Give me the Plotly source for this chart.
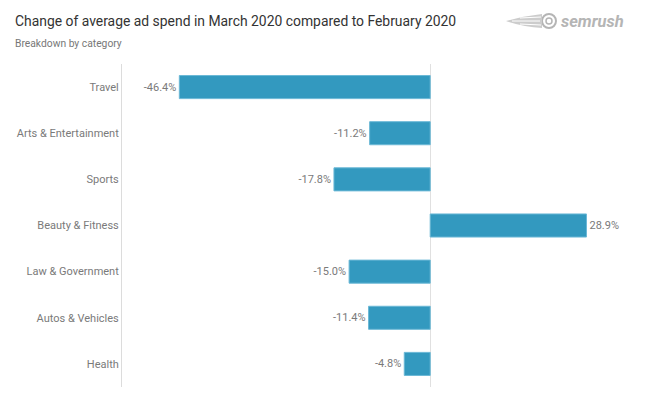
import plotly.graph_objects as go

categories = ["Travel", "Arts & Entertainment", "Sports", "Beauty & Fitness",
              "Law & Government", "Autos & Vehicles", "Health"]
values = [-46.4, -11.2, -17.8, 28.9, -15.0, -11.4, -4.8]
labels = [f"{v:.1f}%" for v in values]

L, T, PW, PH = 122, 64, 518, 323


def px(x):
    return (x - L) / PW


def py(y):
    return 1 - (y - T) / PH


fig = go.Figure(go.Bar(
    y=categories, x=values, orientation="h",
    marker=dict(color="#3399BF", line=dict(color="#6BB8D6", width=1)),
    width=0.5,
    text=labels, textposition="outside", cliponaxis=False,
    textfont=dict(family="Roboto", size=11, color="#7a7a7a"),
    hoverinfo="skip",
))

fig.update_layout(
    width=651, height=395,
    margin=dict(l=L, r=651 - L - PW, t=T, b=395 - T - PH, autoexpand=False),
    paper_bgcolor="white", plot_bgcolor="white",
    showlegend=False,
    bargap=0.5,
    font=dict(family="Roboto", color="#777"),
    xaxis=dict(range=[-57, 38.8], showgrid=False, showticklabels=False,
               zeroline=True, zerolinecolor="#e0e0e0", zerolinewidth=1,
               fixedrange=True, automargin=False),
    yaxis=dict(categoryorder="array", categoryarray=categories[::-1],
               showgrid=False, showline=True, linecolor="#dcdcdc", linewidth=1,
               ticks="", ticklabelstandoff=0, automargin=False, fixedrange=True,
               tickfont=dict(family="Roboto", size=11, color="#7a7a7a")),
    annotations=[
        dict(text="Change of average ad spend in March 2020 compared to February 2020",
             xref="paper", yref="paper", x=px(13), y=py(21),
             xanchor="left", yanchor="middle", showarrow=False,
             font=dict(family="Roboto", size=13.9, color="#333")),
        dict(text="Breakdown by category",
             xref="paper", yref="paper", x=px(13), y=py(44),
             xanchor="left", yanchor="middle", showarrow=False,
             font=dict(family="Roboto", size=10.3, color="#777")),
        dict(text="<b><i>semrush</i></b>",
             xref="paper", yref="paper", x=px(559), y=py(21),
             xanchor="left", yanchor="middle", showarrow=False,
             font=dict(family="Roboto", size=16.5, color="#b5b5b5")),
    ],
    shapes=[
        dict(type="circle", xref="paper", yref="paper",
             x0=px(542), x1=px(556), y0=py(28), y1=py(14),
             line=dict(color="#b5b5b5", width=2)),
        dict(type="circle", xref="paper", yref="paper",
             x0=px(546), x1=px(552), y0=py(24), y1=py(18),
             line=dict(color="#b5b5b5", width=1.5)),
        dict(type="path", xref="paper", yref="paper",
             path=(f"M {px(506)},{py(21)} "
                   f"Q {px(524)},{py(16)} {px(542)},{py(14)} "
                   f"L {px(542)},{py(28)} "
                   f"Q {px(524)},{py(27)} {px(506)},{py(21)} Z"),
             fillcolor="#cccccc", line=dict(width=0)),
        dict(type="line", xref="paper", yref="paper",
             x0=px(512), x1=px(540), y0=py(21), y1=py(21),
             line=dict(color="white", width=1)),
        dict(type="line", xref="paper", yref="paper",
             x0=px(520), x1=px(541), y0=py(18), y1=py(17),
             line=dict(color="white", width=1)),
        dict(type="line", xref="paper", yref="paper",
             x0=px(520), x1=px(541), y0=py(24), y1=py(25),
             line=dict(color="white", width=1)),
    ],
)

fig.write_html("out.html", config={"displayModeBar": False, "staticPlot": True},
               post_script="document.body.style.margin='0';document.body.style.overflow='hidden';")
